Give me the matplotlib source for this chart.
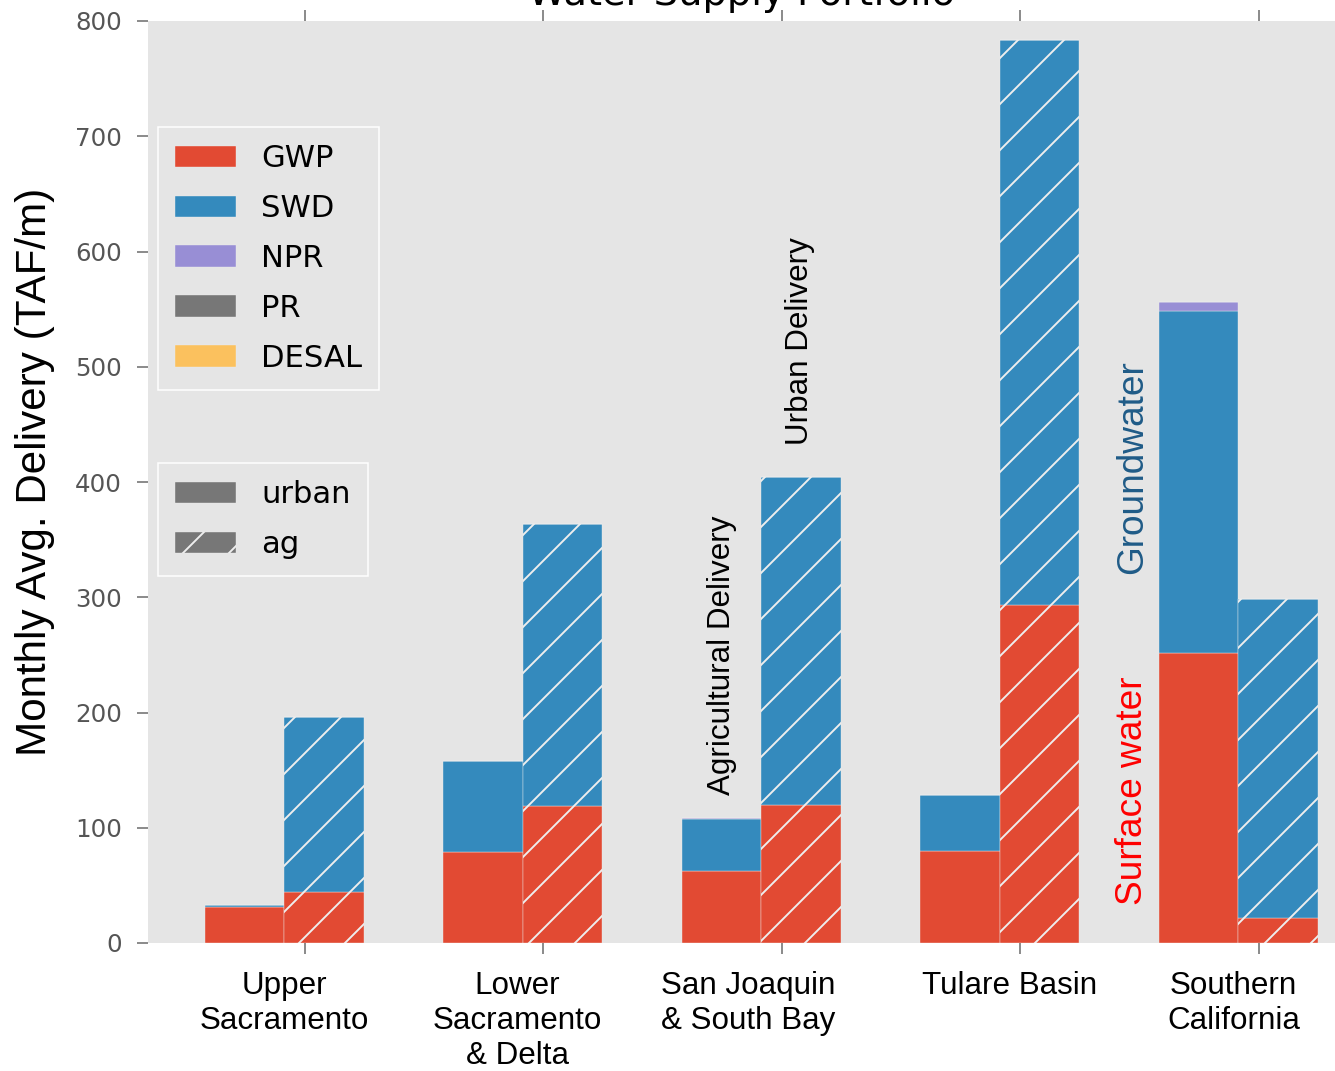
import numpy as np
import matplotlib
matplotlib.use('Agg')
import matplotlib.pyplot as plt
from matplotlib.patches import Patch

# monthly average deliveries by source (TAF/month)
regions = ['Upper\nSacramento', 'Lower\nSacramento\n& Delta', 'San Joaquin\n& South Bay',
           'Tulare Basin', 'Southern\nCalifornia']
sources = ['GWP', 'SWD', 'NPR', 'PR', 'DESAL']

urban_gwp = [31.5, 79, 62.5, 79.5, 251.5]
urban_swd = [1.5, 79, 45, 48.5, 297]
urban_npr = [0, 0, 1, 0, 8]
urban_pr = [0, 0, 0, 0, 0]
urban_desal = [0, 0, 0, 0, 0]

ag_gwp = [44.5, 119, 119.5, 293, 21.5]
ag_swd = [152, 244.5, 285, 490.5, 277]
ag_npr = [0, 0, 0, 0, 0]
ag_pr = [0, 0, 0, 0, 0]
ag_desal = [0, 0, 0, 0, 0]

colors = ['#E24A33', '#348ABD', '#988ED5', '#777777', '#FBC15E']
bg = '#E5E5E5'

DPI = 276
plt.rcParams['hatch.linewidth'] = 0.5
plt.rcParams['font.family'] = 'DejaVu Sans'
annot_font = 'Liberation Sans'

fig = plt.figure(figsize=(1335 / DPI, 1071 / DPI), dpi=DPI)
ax = fig.add_axes([148 / 1335, 128 / 1071, 1187 / 1335, 922 / 1071])
ax.set_facecolor(bg)
for s in ax.spines.values():
    s.set_visible(False)

x = np.arange(len(regions))
width = 1 / 3
urban_left = x - 0.42
ag_left = urban_left + width


def stack(left, layers, hatch=None):
    bottom = np.zeros(len(left))
    handles = []
    for vals, c in zip(layers, colors):
        vals = np.array(vals, dtype=float)
        h = ax.bar(left, vals, width, bottom=bottom, align='edge', color=c,
                   edgecolor='#EEEEEE', linewidth=0.1, hatch=hatch)
        bottom += vals
        handles.append(h)
    return handles


urban_handles = stack(urban_left, [urban_gwp, urban_swd, urban_npr, urban_pr, urban_desal])
stack(ag_left, [ag_gwp, ag_swd, ag_npr, ag_pr, ag_desal], hatch='//')

ax.set_xlim(-0.658, 4.319)
ax.set_ylim(0, 800)
ax.set_xticks(x)
ax.set_xticklabels([])
ax.set_yticks(range(0, 801, 100))
ax.tick_params(axis='x', top=True, bottom=True, direction='out', length=2.9,
               width=0.5, color='#888888')
ax.tick_params(axis='y', left=True, right=False, direction='out', length=2.9,
               width=0.5, color='#888888', pad=3.9, labelsize=6.4, labelcolor='#555555')

ax.set_title('Water Supply Portfolio', fontsize=10, y=1.0, pad=4.2)

legend_kw = dict(loc='upper left', borderaxespad=0, fontsize=8, labelspacing=0.68,
                 handletextpad=0.8, borderpad=0.56, fancybox=False, facecolor=bg,
                 edgecolor='white', framealpha=1)

# source legend
leg1 = ax.legend([h[0] for h in urban_handles], sources,
                 bbox_to_anchor=(0.0084, 0.885), **legend_kw)
leg1.get_frame().set_linewidth(0.4)
ax.add_artist(leg1)

# sector legend
sector_handles = [Patch(facecolor='#777777', edgecolor='#EEEEEE', linewidth=0.1),
                  Patch(facecolor='#777777', edgecolor='#EEEEEE', linewidth=0.1, hatch='//')]
leg2 = ax.legend(sector_handles, ['urban', 'ag'],
                 bbox_to_anchor=(0.0084, 0.5206), **legend_kw)
leg2.get_frame().set_linewidth(0.4)

# region names under each group
label_nudge = [0.0, -0.024, -0.055, 0.04, -0.02]
group_center = urban_left + width
for xc, name, dx in zip(group_center, regions, label_nudge):
    ax.text(xc + dx, -0.03, name, transform=ax.get_xaxis_transform(),
            ha='center', va='top', multialignment='center', linespacing=1.23,
            fontsize=8.2, family=annot_font, color='black')

ax.text(1.75, 250, 'Agricultural Delivery', rotation=90, ha='center', va='center',
        fontsize=8.2, family=annot_font)
ax.text(2.075, 522, 'Urban Delivery', rotation=90, ha='center', va='center',
        fontsize=8.2, family=annot_font)
ax.text(3.472, 413, 'Groundwater', rotation=90, ha='center', va='center',
        fontsize=9.65, family=annot_font, color='#1f5b87')
ax.text(3.472, 132, 'Surface water', rotation=90, ha='center', va='center',
        fontsize=9.65, family=annot_font, color='#ff0000')

fig.text(35 / 1335, 1 - 472 / 1071, 'Monthly Avg. Delivery (TAF/m)', rotation=90,
         ha='center', va='center', fontsize=11, family=annot_font)

fig.savefig('out.png', dpi=DPI, facecolor='white')
